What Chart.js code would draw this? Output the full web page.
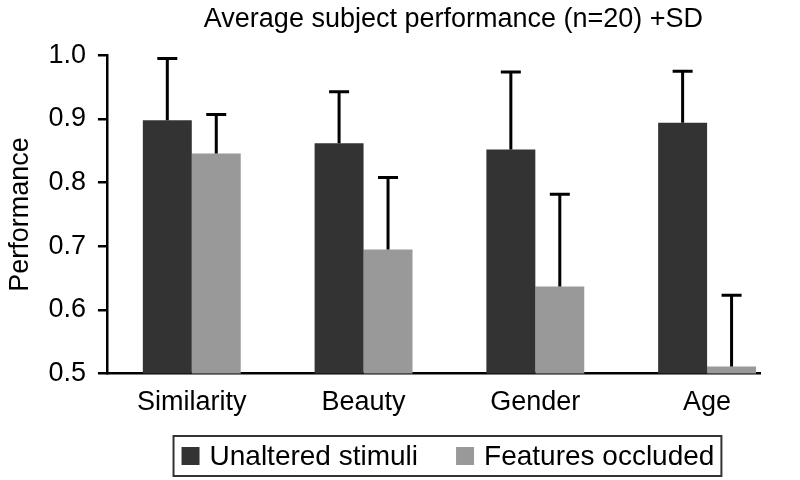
<!DOCTYPE html>
<html>
<head>
  <title>Average subject performance</title>
  <style>
    body { margin: 0; background: #ffffff; }
    .chart-box { width: 800px; height: 480px; position: relative; }
  </style>
</head>
<body>
  <div class="chart-box">
    <canvas id="chart"></canvas>
  </div>

  <script src="https://cdn.jsdelivr.net/npm/chart.js"></script>
  <script>
    // data
    const categories = ['Similarity', 'Beauty', 'Gender', 'Age'];
    const unaltered = [0.898, 0.862, 0.852, 0.894];
    const unalteredSD = [0.097, 0.081, 0.122, 0.081];
    const occluded = [0.846, 0.695, 0.637, 0.511];
    const occludedSD = [0.061, 0.113, 0.145, 0.112];
    const yTicks = [0.5, 0.6, 0.7, 0.8, 0.9, 1.0];
    const seriesNames = ['Unaltered stimuli', 'Features occluded'];

    // x range of the axis (category index units), the axis stops short on the right
    const xMin = -0.494;
    const xMax = 3.308;

    const FONT = "'Liberation Sans', Arial, Helvetica, sans-serif";

    const toPoints = (vals) => vals.map((v, i) => ({ x: i, y: v }));

    // title centred over the plot side of the figure, not the whole canvas
    const shiftTitle = {
      id: 'shiftTitle',
      afterLayout(chart) {
        if (chart.titleBlock) {
          chart.titleBlock.left = chart.chartArea.left;
          chart.titleBlock.right = chart.width;
        }
      }
    };

    // +SD bars, only upwards
    const errorBars = {
      id: 'errorBars',
      afterDatasetsDraw(chart) {
        const ctx = chart.ctx;
        const yScale = chart.scales.y;
        ctx.save();
        ctx.strokeStyle = '#000000';
        ctx.lineWidth = 3;
        chart.data.datasets.forEach((ds, di) => {
          const meta = chart.getDatasetMeta(di);
          meta.data.forEach((bar, i) => {
            const top = yScale.getPixelForValue(ds.data[i].y + ds.sd[i]);
            ctx.beginPath();
            ctx.moveTo(bar.x, bar.y);
            ctx.lineTo(bar.x, top);
            ctx.moveTo(bar.x - 10, top);
            ctx.lineTo(bar.x + 10, top);
            ctx.stroke();
          });
        });
        ctx.restore();
      }
    };

    // legend in a framed box under the axis
    const boxLegend = {
      id: 'boxLegend',
      afterDraw(chart) {
        const ctx = chart.ctx;
        const sw = 18, gapText = 10, gapItem = 38, padL = 8, padR = 7, boxH = 40;
        ctx.save();
        ctx.font = '28px ' + FONT;
        const widths = chart.data.datasets.map(ds => ctx.measureText(ds.label).width);
        let total = padL + padR;
        widths.forEach((w, i) => { total += sw + gapText + w + (i > 0 ? gapItem : 0); });
        const cx = (chart.chartArea.left + chart.width) / 2 - 6;
        const left = cx - total / 2;
        const top = chart.height - 44;
        const mid = top + boxH / 2;
        ctx.strokeStyle = '#333333';
        ctx.lineWidth = 2;
        ctx.strokeRect(left, top, total, boxH);
        let x = left + padL;
        ctx.textBaseline = 'middle';
        ctx.fillStyle = '#000000';
        chart.data.datasets.forEach((ds, i) => {
          ctx.fillStyle = ds.backgroundColor;
          ctx.fillRect(x, mid - sw / 2, sw, sw);
          x += sw + gapText;
          ctx.fillStyle = '#000000';
          ctx.fillText(ds.label, x, mid + 1);
          x += widths[i] + gapItem;
        });
        ctx.restore();
      }
    };

    new Chart(document.getElementById('chart').getContext('2d'), {
      type: 'bar',
      data: {
        datasets: [
          { label: seriesNames[0], data: toPoints(unaltered), sd: unalteredSD, backgroundColor: '#333333' },
          { label: seriesNames[1], data: toPoints(occluded), sd: occludedSD, backgroundColor: '#999999' }
        ]
      },
      options: {
        responsive: true,
        maintainAspectRatio: false,
        animation: false,
        categoryPercentage: 0.57,
        barPercentage: 1.0,
        layout: { padding: { left: 0, right: 40, top: 0, bottom: 48 } },
        plugins: {
          legend: { display: false },
          tooltip: { enabled: false },
          title: {
            display: true,
            text: 'Average subject performance (n=20) +SD',
            color: '#000000',
            font: { family: FONT, size: 27, weight: 'normal' },
            padding: { top: 3, bottom: 20 }
          }
        },
        scales: {
          x: {
            type: 'linear',
            offset: false,
            min: xMin,
            max: xMax,
            afterBuildTicks(scale) {
              scale.ticks = categories.map((c, i) => ({ value: i }));
            },
            ticks: {
              color: '#000000',
              font: { family: FONT, size: 27 },
              padding: 13,
              maxRotation: 0,
              autoSkip: false,
              callback: (v) => categories[v]
            },
            grid: { display: false, drawTicks: false },
            border: { display: true, color: '#000000', width: 2.5 }
          },
          y: {
            min: 0.5,
            max: 1.0,
            afterBuildTicks(scale) {
              scale.ticks = yTicks.map(v => ({ value: v }));
            },
            ticks: {
              color: '#000000',
              font: { family: FONT, size: 27 },
              padding: 12,
              callback: (v) => v.toFixed(1)
            },
            grid: {
              display: true,
              drawOnChartArea: false,
              drawTicks: true,
              tickLength: 9,
              color: '#000000',
              lineWidth: 2.5
            },
            border: { display: true, color: '#000000', width: 2.5 },
            title: {
              display: true,
              text: 'Performance',
              color: '#000000',
              font: { family: FONT, size: 27 },
              padding: { top: 4, bottom: 0 }
            }
          }
        }
      },
      plugins: [shiftTitle, errorBars, boxLegend]
    });
  </script>
</body>
</html>
